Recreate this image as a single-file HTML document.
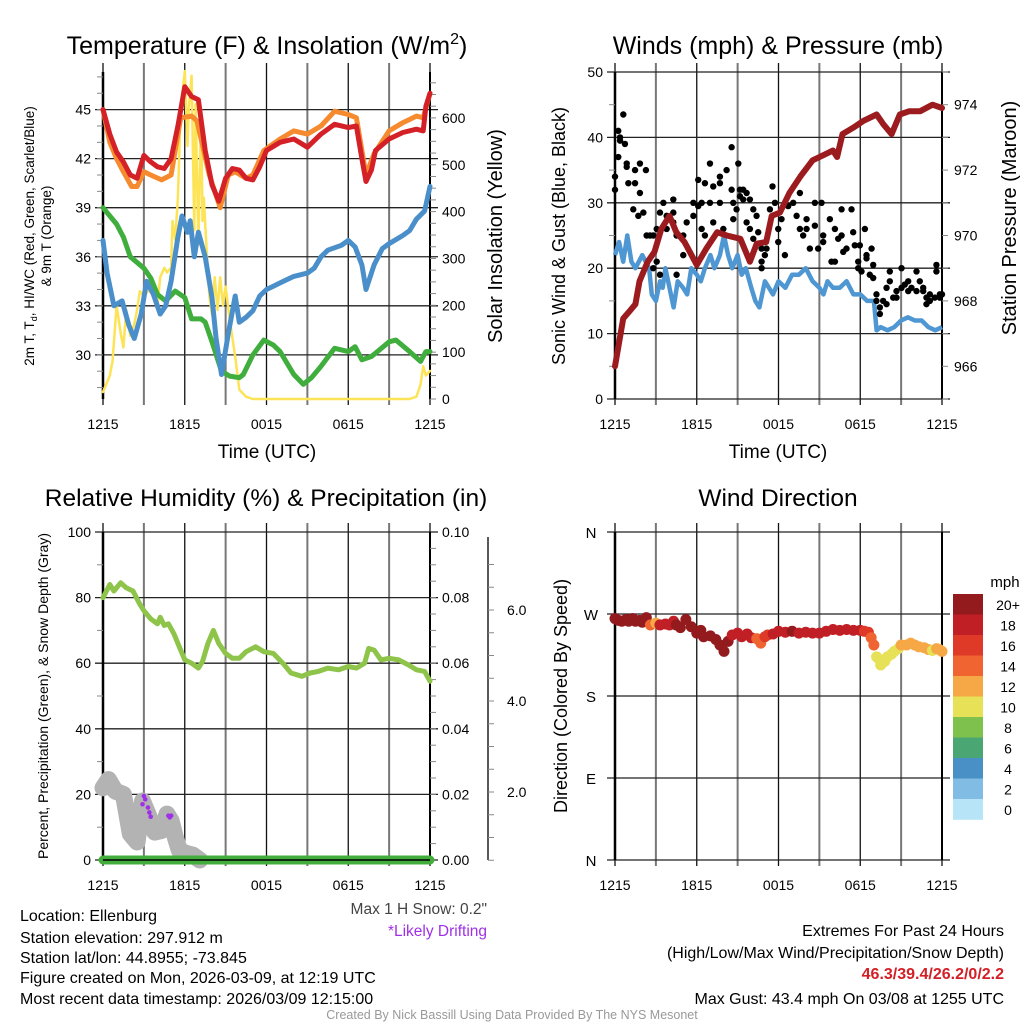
<!DOCTYPE html>
<html><head><meta charset="utf-8"><style>
html,body{margin:0;padding:0;background:#fff;}
svg{display:block;font-family:"Liberation Sans",sans-serif;}
</style></head><body>
<svg id="fig" width="1024" height="1024" viewBox="0 0 1024 1024" xmlns="http://www.w3.org/2000/svg">
<g id="texts">
<text x="267" y="54" font-size="25" text-anchor="middle">Temperature (F) &amp; Insolation (W/m<tspan dy="-10" font-size="16">2</tspan><tspan dy="10">)</tspan></text>
<text x="778" y="54" font-size="25" text-anchor="middle">Winds (mph) &amp; Pressure (mb)</text>
<text x="266" y="506" font-size="24.5" text-anchor="middle">Relative Humidity (%) &amp; Precipitation (in)</text>
<text x="778" y="506" font-size="24.5" text-anchor="middle">Wind Direction</text>
<text x="267" y="458" font-size="19" text-anchor="middle">Time (UTC)</text>
<text x="778" y="458" font-size="19" text-anchor="middle">Time (UTC)</text>
<text transform="translate(34,236) rotate(-90)" font-size="13.5" text-anchor="middle">2m T, T<tspan font-size="9" dy="3">d</tspan><tspan dy="-3">, HI/WC (Red, Green, Scarlet/Blue)</tspan></text>
<text transform="translate(51,236) rotate(-90)" font-size="13.5" text-anchor="middle">&amp; 9m T (Orange)</text>
<text transform="translate(502,236) rotate(-90)" font-size="20" text-anchor="middle">Solar Insolation (Yellow)</text>
<text transform="translate(565,236) rotate(-90)" font-size="18" text-anchor="middle">Sonic Wind &amp; Gust (Blue, Black)</text>
<text transform="translate(1016,218) rotate(-90)" font-size="20" text-anchor="middle">Station Pressure (Maroon)</text>
<text transform="translate(48,696) rotate(-90)" font-size="14" text-anchor="middle">Percent, Precipitation (Green), &amp; Snow Depth (Gray)</text>
<text transform="translate(567,696) rotate(-90)" font-size="18" text-anchor="middle">Direction (Colored By Speed)</text>
<text x="1005" y="587" font-size="15" text-anchor="middle">mph</text>
<g font-size="16">
<text x="20" y="921">Location: Ellenburg</text>
<text x="20" y="943">Station elevation: 297.912 m</text>
<text x="20" y="963">Station lat/lon: 44.8955; -73.845</text>
<text x="20" y="983">Figure created on Mon, 2026-03-09, at 12:19 UTC</text>
<text x="20" y="1004">Most recent data timestamp: 2026/03/09 12:15:00</text>
</g>
<text x="487" y="914" font-size="15.5" fill="#444" text-anchor="end">Max 1 H Snow: 0.2"</text>
<text x="487" y="936" font-size="15.5" fill="#a030e8" text-anchor="end">*Likely Drifting</text>
<text x="1004" y="936" font-size="16" text-anchor="end">Extremes For Past 24 Hours</text>
<text x="1004" y="958" font-size="16" text-anchor="end">(High/Low/Max Wind/Precipitation/Snow Depth)</text>
<text x="1004" y="979" font-size="16" font-weight="bold" fill="#d32027" text-anchor="end">46.3/39.4/26.2/0/2.2</text>
<text x="1004" y="1004" font-size="16" text-anchor="end">Max Gust: 43.4 mph On 03/08 at 1255 UTC</text>
<text x="512" y="1019" font-size="12.5" fill="#999" text-anchor="middle">Created By Nick Bassill Using Data Provided By The NYS Mesonet</text>
</g>
</svg>
<script>
// ---------- data ----------
const timeLabels = ["1215","1815","0015","0615","1215"];
const tRed = [0,0.5,1,1.5,2,2.5,3,3.5,4,4.5,5,5.5,6,6.5,7,7.5,8,8.5,9,9.5,10,10.5,11,11.5,12,13,14,15,16,17,18,18.6,19,19.3,19.7,20,21,22,23,23.5,23.7,24];
const vRed = [45,43.5,42.4,41.8,41,40.8,42.2,41.8,41.5,41.4,42,44,46.4,45.8,45.6,42.5,40.4,39.4,40.8,41.4,41.3,40.8,40.7,41.5,42.5,43,43.2,42.7,43.5,44.1,43.9,44,42,40.6,41.3,42.5,43.2,43.6,43.8,43.7,45.2,46];
const tOrange = [0,0.5,1,1.5,2.1,2.5,3,3.5,4.3,5,5.7,6.5,6.9,7.8,8.6,9.2,9.7,10.5,11,11.8,13,14,15,16,17,18,18.6,19.3,19.9,21,22,23,23.5,24];
const vOrange = [45,43,42,41.2,40.3,40.3,41.2,41,40.7,41,44.5,44.6,44.3,41,39,41,41.2,40.8,41,42.5,43.2,43.7,43.5,44,44.9,44.7,44.5,41,42.3,43.7,44.2,44.6,44.5,46];
const tGreen = [0,1,1.5,2,3,3.5,4,4.6,5.3,6,6.5,7.2,7.5,8,8.7,9.3,10,10.3,11,11.8,12.5,13,14,14.7,15.3,16,17,18,18.5,19,19.7,20,21,21.5,22.5,23.3,23.7,24];
const vGreen = [39,38,37.2,36,35.3,34.7,33.7,33.3,33.9,33.5,32.2,32.2,32,30.8,29,28.7,28.6,28.8,30,30.9,30.6,30.2,28.8,28.2,28.6,29.3,30.4,30.2,30.5,29.7,29.9,30.1,30.8,30.9,30.2,29.6,30.2,30.2];
const tBlue = [0,0.3,0.8,1.4,1.9,2.3,2.8,3.2,3.7,4.2,4.6,5,5.5,5.8,6.2,6.4,6.7,7,7.5,8,8.3,8.7,9.2,9.7,10,10.5,11,11.5,12,12.5,13,13.5,14,15,15.5,16,16.5,17.5,18,18.5,19,19.3,19.9,20.5,21,22,22.5,23,23.6,24];
const vBlue = [37,35,33,33.3,31.8,31,32.5,34.5,33.7,32.5,33,34.5,37.2,38.5,37.5,38.2,36,37.5,36,33.5,31,28.8,31.3,33.6,32,32.3,32.7,33.6,34,34.2,34.4,34.6,34.8,35,35.3,36,36.4,36.7,37,36.6,35.5,34,35.5,36.5,36.8,37.3,37.6,38.3,38.8,40.3];
const tSolar = [0,0.5,0.7,1,1.3,1.5,1.7,2,2.3,2.5,2.7,3,3.3,3.7,4,4.2,4.5,4.7,5,5.1,5.3,5.5,5.7,6,6.2,6.3,6.5,6.7,6.8,7,7.2,7.3,7.4,7.6,7.8,8,8.2,8.4,8.6,8.8,9,9.3,9.7,10,10.5,11,22.5,23,23.3,23.5,23.7,24];
const vSolar = [15,50,80,200,140,110,190,135,160,190,230,220,230,230,200,260,280,270,280,380,340,430,620,700,540,620,690,360,630,330,620,380,430,320,220,180,260,190,260,200,240,170,90,20,5,0,0,5,30,70,50,60];
const tWind = [0,0.3,0.6,0.9,1.2,1.5,2,2.5,2.7,3,3.3,3.5,3.7,4,4.3,4.6,5,5.3,5.6,6,6.3,6.6,7,7.3,7.7,8,8.3,8.6,9,9.3,9.6,10,10.3,10.6,11,11.3,11.6,12,12.5,13,13.5,14,14.5,15,15.3,15.6,16,16.5,17,17.5,18,18.5,19,19.2,19.5,20,20.5,21,21.5,22,22.5,23,23.5,24];
const vWind = [22,24,21,25,21,20,22,20,16,15,18,17,20,17,14,18,17,16,20,19,18,20,22,20,22,25,22,20,22,19,20,17,15,14,18,17,16,18,17,19,19,20,18,17,16,18,17,17,18,16,16,15,15,10.5,11,10.5,11,12,12.5,12,12,11,10.5,11];
const tPres = [0,0.6,1.1,1.5,1.8,2.4,2.9,3.4,4,4.5,5.1,6,6.7,7.5,8.2,9.2,9.9,10.4,11.1,11.5,12.1,12.8,13.6,14.5,15.5,16,16.3,16.7,17.5,18.2,19.2,19.7,20.3,20.9,21.6,22.4,23.3,24];
const vPres = [966,967.46,967.7,967.9,968.6,969.2,969.5,970.2,970.6,970.1,969.8,969.1,969.6,970.1,970,969.9,969.2,969.75,969.8,970.6,970.7,971.3,971.8,972.3,972.5,972.6,972.4,973.1,973.3,973.5,973.7,973.4,973.1,973.7,973.8,973.8,974,973.9];
const tGust = [0,0,0.24,0.24,0.37,0.37,0.61,0.73,0.86,0.86,0.98,1.34,1.47,1.47,1.71,1.83,1.83,2.08,2.27,2.32,2.57,2.81,2.81,3.06,3.06,3.3,3.3,3.55,3.79,3.79,4.28,4.28,4.28,4.52,4.52,5.01,5.01,5.26,5.75,5.75,6.11,6.11,6.36,6.36,6.6,6.6,6.97,6.97,7.21,7.21,7.7,7.7,7.7,7.95,8.19,8.56,8.56,8.68,8.68,8.92,9.05,9.17,9.17,9.41,9.41,9.66,9.66,9.9,9.9,10.15,10.15,10.39,10.51,10.76,10.76,10.76,11,11.12,11.37,11.56,11.74,11.98,11.98,12.22,12.47,12.71,13.08,13.33,13.57,13.57,13.81,14.06,14.06,14.3,14.67,14.67,14.91,15.16,15.28,15.28,15.77,15.89,16.14,16.14,16.38,16.63,16.63,16.75,16.99,17.36,17.48,17.6,17.85,17.85,17.97,18.09,18.34,18.46,18.46,18.7,18.83,18.95,18.95,19.19,19.19,19.44,19.44,19.68,19.93,19.93,20.17,20.17,20.42,20.66,20.66,21.03,21.03,21.27,21.52,21.52,21.76,22.13,22.13,22.37,22.62,22.62,22.86,22.86,23.11,23.11,23.47,23.59,23.59,23.84,23.84,24];
const vGust = [32,34,37,41,39.5,40,43.5,39,36,35.5,33,29,33,35,28,36,31.5,28.5,35,25,25,20,25,21,26,19,28.5,30,28,26,30.5,28.5,27,19,25,22,25,27,28,30,33.5,29.5,26,30,33,25,36,30,27,32.5,34,33,30,26,35,38.5,32,27.5,30,29,36,31,32,32,30.5,27,31.5,30.5,26,24.5,29,28,25.5,23,20,21,22,23,29,32.5,30,24,26,27.5,22,29.5,30,28,31.5,26,25,27.5,26,23,30,26.5,23,30,25,24,27.5,21,26,21,24.5,29,25,22.5,23,29,25.5,23.5,20,21,23.5,19.5,26,22,21.5,19,23,20.5,18.5,16,15,14,13,15,14.5,17,18,19.5,15.5,15.5,16.5,17,20,17.5,16.5,18,17,19.5,16.5,18,17,16.5,14.5,15.5,15,16,15.5,20.5,19.5,16,15.5,16];
const tRH = [0,0.5,0.8,1.3,1.7,2.2,2.7,3,3.5,4,4.2,4.5,4.8,5.2,5.6,6,6.5,7,7.3,7.7,8.1,8.5,9,9.5,10,10.5,11.2,11.8,12.5,13.2,13.8,14.6,15.2,15.8,16.5,17.3,18,18.6,19.2,19.5,19.9,20.4,21,21.7,22.4,23,23.6,24];
const vRH = [80,84,82,84.5,83,82,78,76,73.5,72,74,71.5,72,69,65,61,60,58.5,60.5,66,70,66,63,61.5,61.5,63.5,65,63.5,63,60,57,56,57,57.5,58.5,58,59,58.5,60,64.5,64,61,61.5,61,59.5,58,57.5,54.5];
const tSnow = [0,0.4,0.9,1.5,2,2.5,2.9,3.3,3.8,4.3,4.7,5,5.3,5.6,6.1,6.6,7.1];
const vSnow = [22,24.5,21,20,8,5.5,18,14,8.5,9,14,12,7,3,2,1.5,0];
const tDrift = [2.9,3.0,3.1,3.3,3.4,3.5,4.8,4.9,5.0];
const vDrift = [17,19.5,18.5,16,14.5,13.2,13.5,13,13.5];
const tPrecip = [0,24];
const vPrecip = [0,0];
const tDir = [0,0.25,0.5,0.8,1,1.3,1.5,1.8,2,2.3,2.6,3,3.3,3.7,4,4.3,4.5,4.8,5.2,5.6,6,6.3,6.5,7,7.4,7.7,8,8.3,8.6,9,9.3,9.7,10,10.4,10.7,11,11.2,11.6,12,12.5,13,13.5,14,14.5,15,15.5,16,16.5,17,17.5,18,18.3,18.6,18.8,19,19.2,19.4,19.5,19.8,20,20.3,20.5,20.8,21,21.4,21.7,22,22.3,22.7,23,23.3,23.6,23.8,24];
const vDir = [265,263,262,264,262,265,262,263,261,266,258,260,258,259,258,262,258,255,264,256,249,252,245,246,242,236,229,240,247,249,245,248,244,243,238,245,247,248,251,250,251,249,250,249,249,251,253,252,253,252,252,251,250,244,236,223,220,214,218,223,226,229,232,236,236,238,236,234,233,231,230,232,231,229];
const sDir = [22,22,22,20,22,22,20,22,22,20,14,13,18,18,19,18,20,20,22,22,22,22,22,22,21,22,22,20,18,18,18,19,18,15,14,16,17,18,19,18,20,19,18,19,18,18,19,18,19,18,19,17,16,15,14,11,10,10,10,10,10.5,11,11.5,12,12,12,12,12,12,12,11,12,12,12];
const cbLabels = ["20+","18","16","14","12","10","8","6","4","2","0"];
const cbColors = ["#931a1d","#c11f26","#df3a28","#ef6430","#f5a845","#e6e157","#7ec14c","#4aa773","#4990c6","#80bce3","#b8e4f7"];

// ---------- helpers ----------
const NS = "http://www.w3.org/2000/svg";
const fig = document.getElementById("fig");
function mk(tag, at, parent){const e=document.createElementNS(NS,tag);for(const k in at)e.setAttribute(k,at[k]);(parent||fig).appendChild(e);return e;}
function xs(x0,x1){return t=>x0+t/24*(x1-x0);}
function lin(d0,d1,p0,p1){return v=>p0+(v-d0)/(d1-d0)*(p1-p0);}
function pathD(ts,vs,fx,fy){return ts.map((t,i)=>(i?"L":"M")+fx(t).toFixed(1)+","+fy(vs[i]).toFixed(1)).join(" ");}
function colorFor(s){if(s>=20)return cbColors[0];const i=Math.floor(s/2);return cbColors[10-Math.min(10,Math.max(0,i))];}

function frame(name,x0,x1,y0,y1,hGrid,fy){
  const g=mk("g",{});
  
  
  const fx=xs(x0,x1);
  for(let i=0;i<=8;i++){
    const x=fx(i*3);
    const l=mk("line",{x1:x,x2:x,y1:y0-9,y2:y1+6,stroke:i%2?"#777":"#111","stroke-width":i%2?2:1.3},g);
    
    
  }
  hGrid.forEach(v=>{
    const y=fy(v);
    const l=mk("line",{x1:x0-8,x2:x1+8,y1:y,y2:y,stroke:"#222","stroke-width":1.3},g);
    
    
  });
  const b=mk("line",{x1:x0,x2:x0,y1:y0,y2:y1,stroke:"#000","stroke-width":2.5},g);
  
  
  const r=mk("line",{x1:x1,x2:x1,y1:y0,y2:y1,stroke:"#000","stroke-width":2},g);
  
  
  timeLabels.forEach((lab,i)=>{
    const t=mk("text",{x:fx(i*6),y:y1+30,"font-size":14,"text-anchor":"middle"},g);
    t.textContent=lab;
    
    
  });
  return fx;
}
function ticks(vals,fy,x,side,fmt,minor,len,gap){
  const g=mk("g",{});
  
  
  const off=gap||12;
  vals.forEach(v=>{
    const t=mk("text",{x:side<0?x-off:x+off,y:fy(v)+5,"font-size":14,"text-anchor":side<0?"end":"start"},g);
    t.textContent=fmt(v);
    
    
  });
  (minor||[]).forEach(v=>{
    const l=mk("line",{x1:x,x2:x+side*(len||6),y1:fy(v),y2:fy(v),stroke:"#888","stroke-width":1},g);
    
    
  });
}
function range(a,b,s){const r=[];for(let v=a;v<=b+1e-9;v+=s)r.push(+v.toFixed(4));return r;}

// ---------- panel 1: temperature ----------
const yT=lin(27.3,47.3,399,72), yS=lin(0,698,399,72);
const fx1=frame("temperature",103,430,72,399,[30,33,36,39,42,45],yT);
ticks([30,33,36,39,42,45],yT,103,-1,v=>v,range(28,47,1));
ticks([0,100,200,300,400,500,600],yS,430,1,v=>v,range(0,675,25));
[["s",tSolar,vSolar,yS,"#fde356",2.5,"solar-insolation-line"],
 ["g",tGreen,vGreen,yT,"#3fae3d",5,"dewpoint-line"],
 ["b",tBlue,vBlue,yT,"#4a8fc9",5,"wind-chill-line"],
 ["o",tOrange,vOrange,yT,"#f68a2e",5,"temperature-9m-line"],
 ["r",tRed,vRed,yT,"#d42027",5,"temperature-2m-line"]].forEach(s=>{
  const p=mk("path",{d:pathD(s[1],s[2],fx1,s[3]),fill:"none",stroke:s[4],"stroke-width":s[5],"stroke-linejoin":"round","stroke-linecap":"round"});
  
  
});

// ---------- panel 2: winds ----------
const yW=lin(0,50,399,72), yP=lin(965,975,399,72);
const fx2=frame("winds",615,942,72,399,[0,10,20,30,40,50],yW);
ticks([0,10,20,30,40,50],yW,615,-1,v=>v,range(5,45,10));
ticks([966,968,970,972,974],yP,942,1,v=>v,range(965,975,1));
const pw=mk("path",{d:pathD(tWind,vWind,fx2,yW),fill:"none",stroke:"#4f97d2","stroke-width":4.5,"stroke-linejoin":"round"});


const gg=mk("g",{});


tGust.forEach((t,i)=>{
  const c=mk("circle",{cx:fx2(t),cy:yW(vGust[i]),r:3.2,fill:"#000"},gg);
  
  
});
const pp=mk("path",{d:pathD(tPres,vPres,fx2,yP),fill:"none",stroke:"#9b1b1e","stroke-width":6,"stroke-linejoin":"round","stroke-linecap":"round"});



// ---------- panel 3: humidity ----------
const yR=lin(0,100,860,532), yIn=lin(0,0.1,860,532), yDepth=lin(0,2,883,792);
const fx3=frame("humidity",103,430,532,860,[0,20,40,60,80,100],yR);
ticks([0,20,40,60,80,100],yR,103,-1,v=>v,range(10,90,20));
ticks([0,0.02,0.04,0.06,0.08,0.1],yIn,430,1,v=>v.toFixed(2),range(0.005,0.095,0.005));
const ax3=mk("line",{x1:488,x2:488,y1:537,y2:860,stroke:"#222","stroke-width":1.5});


ticks([2,4,6],yDepth,488,1,v=>v.toFixed(1),range(0.5,7,0.5),6,19);
const ps=mk("path",{d:pathD(tSnow,vSnow,fx3,yR),fill:"none",stroke:"#b3b3b3","stroke-width":17,"stroke-linejoin":"round","stroke-linecap":"round"});


tDrift.forEach((t,i)=>{
  const c=mk("circle",{cx:fx3(t),cy:yR(vDrift[i]),r:2.3,fill:"#a030e8"});
  
  
});
const ppr=mk("path",{d:pathD(tPrecip,vPrecip,fx3,yIn),fill:"none",stroke:"#43ad3c","stroke-width":9,"stroke-linecap":"round"});


const pr=mk("path",{d:pathD(tRH,vRH,fx3,yR),fill:"none",stroke:"#8dc449","stroke-width":5,"stroke-linejoin":"round","stroke-linecap":"round"});


const bl=mk("line",{x1:103,x2:430,y1:860,y2:860,stroke:"#000","stroke-width":1.5});



// ---------- panel 4: direction ----------
const yD=lin(0,360,860,532);
const fx4=frame("direction",615,942,532,860,[0,90,180,270,360],yD);
const dirLabels=["N","E","S","W","N"];
[0,90,180,270,360].forEach((v,i)=>{
  const t=mk("text",{x:591,y:yD(v)+6,"font-size":15,"text-anchor":"middle"});
  t.textContent=dirLabels[i];
  
  
});
tDir.forEach((t,i)=>{
  const c=mk("circle",{cx:fx4(t),cy:yD(vDir[i]),r:5.5,fill:colorFor(sDir[i])});
  
  
});
const cb=mk("g",{});


cbLabels.forEach((lab,i)=>{
  const y=594+i*20.5;
  const r=mk("rect",{x:953,y:y,width:30,height:20.8,fill:cbColors[i]},cb);
  
  
  const t=mk("text",{x:1008,y:y+16,"font-size":14,"text-anchor":"middle"},cb);
  t.textContent=lab;
  
  
});
</script>
</body></html>
